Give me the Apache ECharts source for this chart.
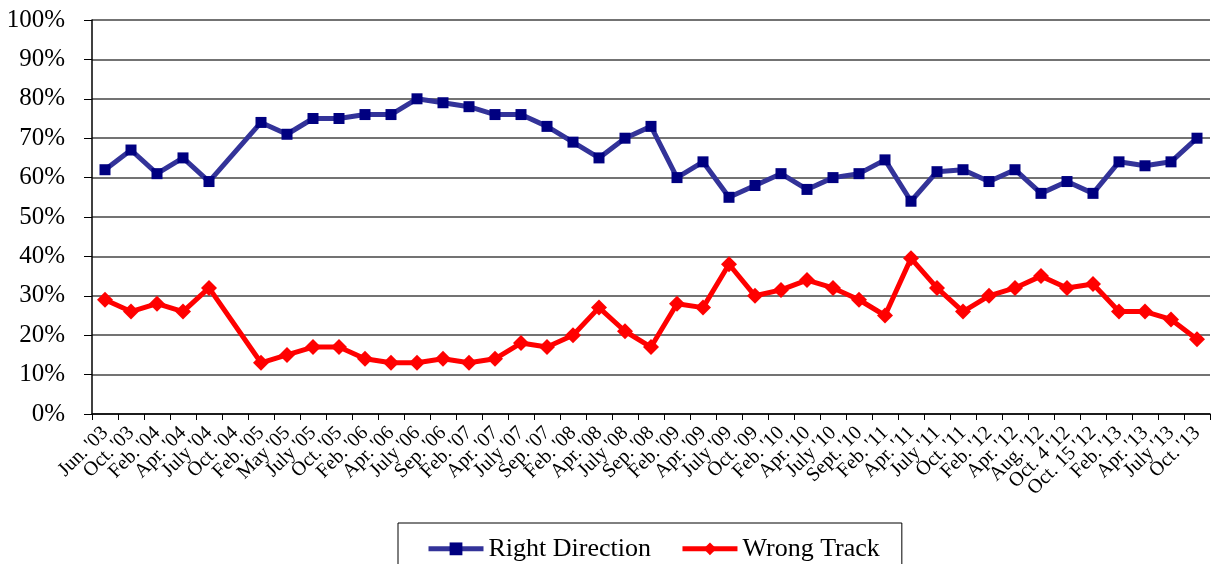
<html>
<head>
<script src="https://cdn.jsdelivr.net/npm/echarts@6/dist/echarts.min.js"></script>
<style>
  body { margin: 0; background: #fff; }
  #main { width: 1214px; height: 564px; }
</style>
</head>
<body>
<div id="main"></div>
<script>
var categories = ["Jun. '03", "Oct. '03", "Feb. '04", "Apr. '04", "July '04", "Oct. '04",
    "Feb. '05", "May '05", "July '05", "Oct. '05", "Feb. '06", "Apr. '06", "July '06",
    "Sep. '06", "Feb. '07", "Apr. '07", "July '07", "Sep. '07", "Feb. '08", "Apr. '08",
    "July '08", "Sep. '08", "Feb. '09", "Apr. '09", "July '09", "Oct. '09", "Feb. '10",
    "Apr. '10", "July '10", "Sept. '10", "Feb. '11", "Apr. '11", "July '11", "Oct. '11",
    "Feb. '12", "Apr. '12", "Aug. '12", "Oct. 4 '12", "Oct. 15 '12", "Feb. '13",
    "Apr. '13", "July '13", "Oct. '13"];

var rightDirection = [62, 67, 61, 65, 59, null, 74, 71, 75, 75, 76, 76, 80, 79, 78, 76, 76,
    73, 69, 65, 70, 73, 60, 64, 55, 58, 61, 57, 60, 61, 64.5, 54, 61.5, 62, 59, 62, 56,
    59, 56, 64, 63, 64, 70];

var wrongTrack = [29, 26, 28, 26, 32, null, 13, 15, 17, 17, 14, 13, 13, 14, 13, 14, 18,
    17, 20, 27, 21, 17, 28, 27, 38, 30, 31.5, 34, 32, 29, 25, 39.5, 32, 26, 30, 32, 35,
    32, 33, 26, 26, 24, 19];

var chart = echarts.init(document.getElementById('main'));
var serif = '"Liberation Serif", "Times New Roman", serif';

var option = {
    backgroundColor: '#fff',
    animation: false,
    textStyle: { fontFamily: serif, color: '#000' },
    grid: { left: 92, right: 4, top: 20, bottom: 150 },
    legend: {
        top: 523,
        left: 398,
        padding: [6, 22, 14, 28],
        itemGap: 29,
        itemWidth: 55,
        itemHeight: 16,
        borderColor: '#000',
        borderWidth: 1,
        lineStyle: { width: 5 },
        textStyle: { fontFamily: serif, fontSize: 26, color: '#000' },
        data: ['Right Direction', 'Wrong Track']
    },
    xAxis: {
        type: 'category',
        data: categories,
        boundaryGap: true,
        axisLine: { lineStyle: { color: '#000', width: 1.5 } },
        axisTick: { show: true, length: 6, lineStyle: { color: '#000' } },
        axisLabel: {
            interval: 0,
            rotate: 45,
            margin: 16,
            fontSize: 20,
            fontFamily: serif,
            color: '#000'
        }
    },
    yAxis: {
        type: 'value',
        min: 0,
        max: 100,
        interval: 10,
        axisLine: { show: true, lineStyle: { color: '#000', width: 1.5 } },
        axisTick: { show: true, length: 8, lineStyle: { color: '#000' } },
        axisLabel: {
            formatter: '{value}%',
            margin: 27,
            fontSize: 25,
            fontFamily: serif,
            color: '#000'
        },
        splitLine: { lineStyle: { color: '#444', width: 1.5 } }
    },
    series: [
        {
            name: 'Right Direction',
            type: 'line',
            data: rightDirection,
            connectNulls: true,
            symbol: 'rect',
            symbolSize: 11,
            lineStyle: { color: '#333399', width: 5 },
            itemStyle: { color: '#000080' }
        },
        {
            name: 'Wrong Track',
            type: 'line',
            data: wrongTrack,
            connectNulls: true,
            symbol: 'diamond',
            symbolSize: 16,
            lineStyle: { color: '#ff0000', width: 5 },
            itemStyle: { color: '#ff0000' }
        }
    ]
};

chart.setOption(option);
</script>
</body>
</html>
